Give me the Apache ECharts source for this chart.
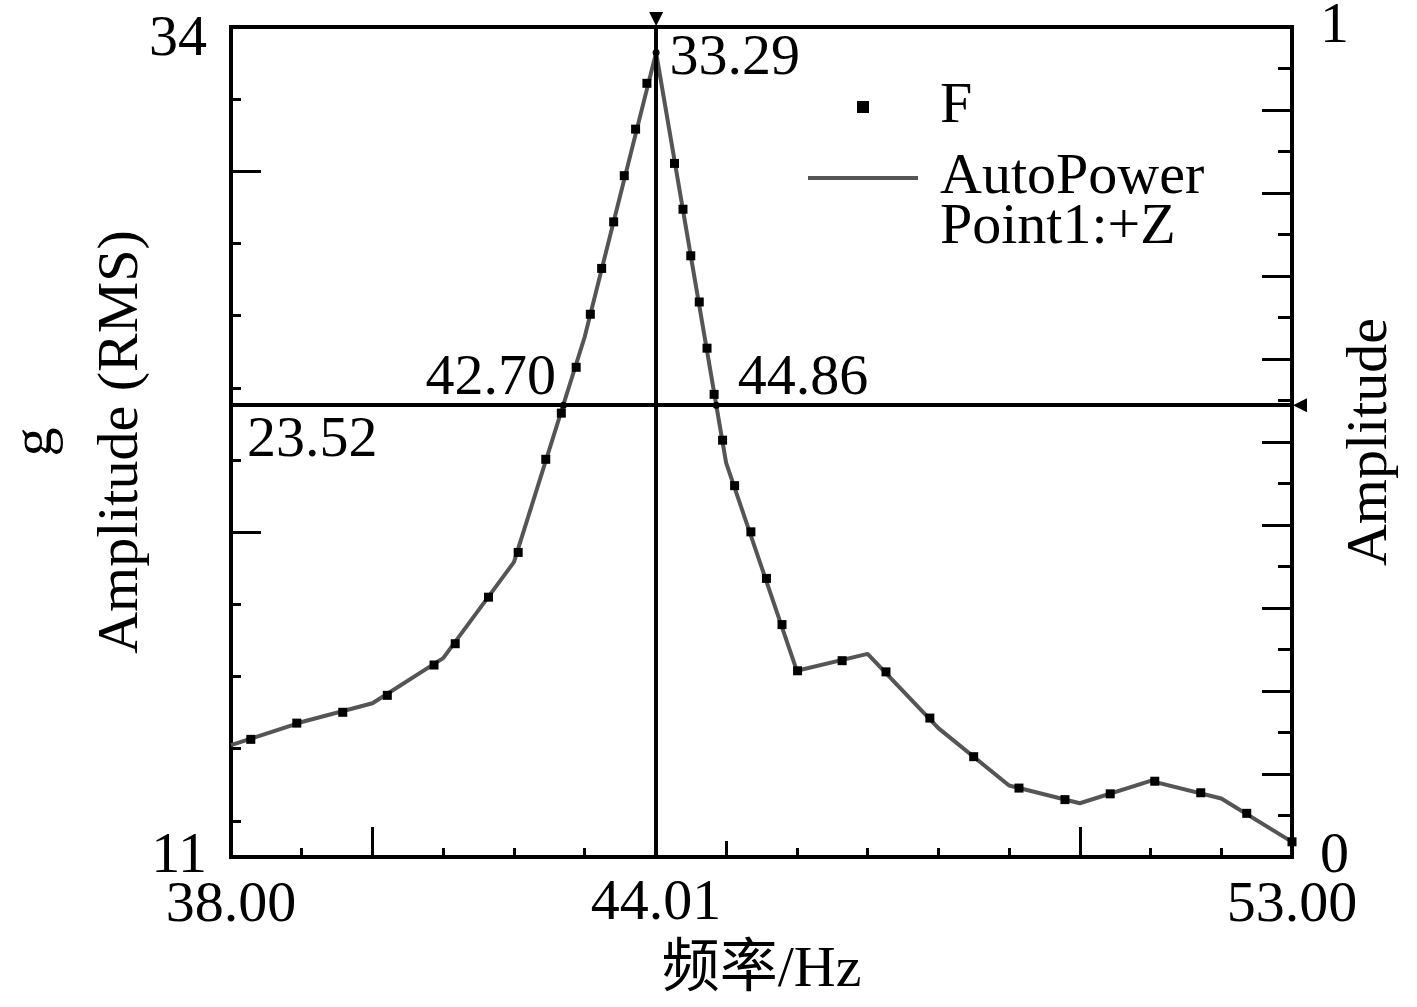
<!DOCTYPE html>
<html>
<head>
<meta charset="utf-8">
<title>AutoPower Point1:+Z</title>
<script src="https://cdn.jsdelivr.net/npm/echarts@6/dist/echarts.min.js"></script>
<style>
  html, body { margin: 0; padding: 0; background: #fff; }
  #chart { width: 1417px; height: 1007px; }
</style>
</head>
<body>
<div id="chart"></div>
<script>
// AutoPower 曲线的折线顶点 (Hz, g)
var lineFreq = [38, 39, 40, 41, 42, 43, 44.01, 45, 46, 47, 48, 49, 50, 51, 52, 53];
var lineAmp = [14.10, 14.74, 15.26, 16.51, 19.17, 25.41, 33.29, 21.92, 16.16, 16.63, 14.57, 12.98, 12.49, 13.11, 12.62, 11.42];

// F 标记点
var markFreq = [38.28, 38.93, 39.58, 40.21, 40.87, 41.17, 41.64, 42.06, 42.45, 42.67, 42.88, 43.08, 43.24, 43.41,
    43.56, 43.72, 43.88, 44.27, 44.39, 44.50, 44.62, 44.73, 44.83, 44.95, 45.12, 45.35, 45.57, 45.79, 46.01,
    46.64, 47.26, 47.88, 48.50, 49.14, 49.79, 50.43, 51.06, 51.71, 52.36, 53.00];
var markAmp = [14.26, 14.71, 15.01, 15.48, 16.32, 16.91, 18.20, 19.44, 22.02, 23.30, 24.57, 26.04, 27.31, 28.60,
    29.88, 31.17, 32.44, 30.22, 28.95, 27.66, 26.38, 25.10, 23.82, 22.55, 21.29, 20.01, 18.72, 17.44, 16.16,
    16.44, 16.13, 14.85, 13.78, 12.91, 12.59, 12.75, 13.10, 12.78, 12.21, 11.42];

// 游标读数
var cursorFreq = 44.01;
var cursorPeak = 33.29;
var cursorLevel = 23.52;
var crossFreq = [42.70, 44.86];

// 刻度
var xRange = [38, 53];
var xLabels = [38, 53];
var xLongTicks = [40, 50];
var xMidTicks = [45];
var yRange = [11, 34];
var yLabels = [11, 34];
var yShortTicks = [12, 14, 16, 18, 22, 24, 26, 28, 32];
var yLongTicks = [20, 30];
var rightRange = [0, 1];
var rightLabels = [0, 1];

var lineName = 'AutoPower Point1:+Z';
var markName = 'F';

var FONT = "'Liberation Serif', 'Noto Sans CJK SC', serif";
var FS = 58;

function zip(a, b) {
    return a.map(function (v, i) { return [v, b[i]]; });
}

var chart = echarts.init(document.getElementById('chart'), null, { renderer: 'canvas' });

var baseX = {
    type: 'value', min: xRange[0], max: xRange[1], position: 'bottom',
    axisLine: { show: false }, splitLine: { show: false },
    axisLabel: { show: false }
};
var baseY = {
    type: 'value', min: yRange[0], max: yRange[1], position: 'left',
    axisLine: { show: false }, splitLine: { show: false },
    axisLabel: { show: false }
};

var option = {
    animation: false,
    backgroundColor: '#fff',
    textStyle: { fontFamily: FONT, color: '#000' },
    grid: {
        left: 231, top: 27, right: 125, bottom: 150,
        containLabel: false, outerBoundsMode: 'none',
        show: true, borderColor: '#000', borderWidth: 4, backgroundColor: 'transparent'
    },
    legend: {
        orient: 'vertical',
        left: 808,
        top: 78,
        padding: 0,
        itemWidth: 110,
        itemHeight: 12,
        itemGap: -37,
        symbolKeepAspect: true,
        selectedMode: false,
        textStyle: { fontFamily: FONT, fontSize: FS, color: '#000', lineHeight: 50, padding: [0, 0, 0, 17] },
        formatter: function (name) {
            // 第一行留空，让图例线对齐 AutoPower 这一行
            return name === lineName ? '\nAutoPower\nPoint1:+Z' : name;
        },
        data: [
            { name: markName, icon: 'path://M0,0H10V10H0Z' },
            { name: lineName, icon: 'path://M0,0H110V4H0Z' }
        ]
    },
    xAxis: [
        {
            type: 'value', min: xRange[0], max: xRange[1], interval: 1, position: 'bottom',
            name: '频率/Hz', nameLocation: 'middle', nameGap: 85, nameMoveOverlap: false,
            nameTextStyle: { fontFamily: FONT, fontSize: FS, color: '#000' },
            axisLine: { show: true, onZero: false, lineStyle: { color: '#000', width: 4 } },
            axisTick: { show: true, inside: true, length: 9, lineStyle: { color: '#000', width: 3 } },
            splitLine: { show: false },
            axisLabel: {
                show: true, customValues: xLabels, margin: 20,
                fontFamily: FONT, fontSize: FS, color: '#000',
                formatter: function (v) { return v.toFixed(2); }
            }
        },
        Object.assign({}, baseX, {
            axisTick: { show: true, inside: true, length: 30, customValues: xLongTicks, lineStyle: { color: '#000', width: 3 } }
        }),
        Object.assign({}, baseX, {
            axisTick: { show: true, inside: true, length: 16, customValues: xMidTicks, lineStyle: { color: '#000', width: 3 } }
        })
    ],
    yAxis: [
        {
            type: 'value', min: yRange[0], max: yRange[1], position: 'left',
            name: 'g\nAmplitude (RMS)', nameLocation: 'middle', nameRotate: 90, nameGap: 66, nameMoveOverlap: false,
            nameTextStyle: { fontFamily: FONT, fontSize: FS, color: '#000', lineHeight: 86 },
            axisLine: { show: true, onZero: false, lineStyle: { color: '#000', width: 4 } },
            axisTick: { show: true, inside: true, length: 10, customValues: yShortTicks, lineStyle: { color: '#000', width: 3 } },
            splitLine: { show: false },
            axisLabel: {
                show: true, customValues: yLabels, margin: 24,
                fontFamily: FONT, fontSize: FS, color: '#000',
                formatter: function (v) { return v === yRange[1] ? '{t|' + v + '}' : '' + v; },
                rich: { t: { fontFamily: FONT, fontSize: FS, color: '#000', padding: [26, 0, 0, 0] } }
            }
        },
        {
            type: 'value', min: rightRange[0], max: rightRange[1], interval: 0.1, position: 'right',
            name: 'Amplitude', nameLocation: 'middle', nameRotate: 90, nameGap: 50, nameMoveOverlap: false,
            nameTextStyle: { fontFamily: FONT, fontSize: FS, color: '#000' },
            axisLine: { show: true, onZero: false, lineStyle: { color: '#000', width: 4 } },
            axisTick: { show: true, inside: true, length: 30, lineStyle: { color: '#000', width: 3 } },
            minorTick: { show: true, splitNumber: 2, length: 14, lineStyle: { color: '#000', width: 3 } },
            splitLine: { show: false },
            axisLabel: {
                show: true, customValues: rightLabels, margin: 28,
                fontFamily: FONT, fontSize: FS, color: '#000'
            }
        },
        Object.assign({}, baseY, {
            axisTick: { show: true, inside: true, length: 30, customValues: yLongTicks, lineStyle: { color: '#000', width: 3 } }
        })
    ],
    series: [
        {
            name: lineName,
            type: 'line',
            data: zip(lineFreq, lineAmp),
            symbol: 'none',
            showSymbol: false,
            lineStyle: { color: '#555555', width: 4 },
            itemStyle: { color: '#555555' },
            z: 2
        },
        {
            name: markName,
            type: 'scatter',
            data: zip(markFreq, markAmp),
            symbol: 'rect',
            symbolSize: 9,
            itemStyle: { color: '#000', opacity: 1 },
            z: 3
        },
        {
            // 游标线与读数
            name: 'cursor',
            type: 'scatter',
            clip: false,
            symbol: 'circle',
            symbolSize: 7,
            itemStyle: { color: '#000', opacity: 1 },
            z: 4,
            label: { show: true, fontFamily: FONT, fontSize: FS, color: '#000', opacity: 1 },
            data: [
                { value: [cursorFreq, cursorPeak], label: { position: 'right', distance: 10, offset: [0, 6], formatter: cursorPeak.toFixed(2) } },
                { value: [crossFreq[0], cursorLevel], label: { position: 'left', distance: 4, offset: [0, -26], formatter: crossFreq[0].toFixed(2) } },
                { value: [crossFreq[1], cursorLevel], label: { position: 'right', distance: 18, offset: [0, -26], formatter: crossFreq[1].toFixed(2) } },
                { value: [xRange[0], cursorLevel], symbolSize: 0, label: { position: 'right', distance: 16, offset: [0, 36], formatter: cursorLevel.toFixed(2) } },
                { value: [cursorFreq, yRange[1]], symbol: 'triangle', symbolSize: [14, 14], symbolRotate: 180, symbolOffset: [0, -8], label: { show: false } },
                { value: [xRange[1], cursorLevel], symbol: 'triangle', symbolSize: [14, 14], symbolRotate: 90, symbolOffset: [8, 0], label: { show: false } }
            ],
            markLine: {
                silent: true,
                symbol: ['none', 'none'],
                lineStyle: { color: '#000', width: 4, type: 'solid', opacity: 1 },
                label: { show: false },
                data: [
                    {
                        xAxis: cursorFreq,
                        label: {
                            show: true, position: 'start', distance: 18,
                            fontFamily: FONT, fontSize: FS, color: '#000',
                            formatter: cursorFreq.toFixed(2)
                        }
                    },
                    { yAxis: cursorLevel }
                ]
            }
        }
    ]
};

chart.setOption(option);
</script>
</body>
</html>
